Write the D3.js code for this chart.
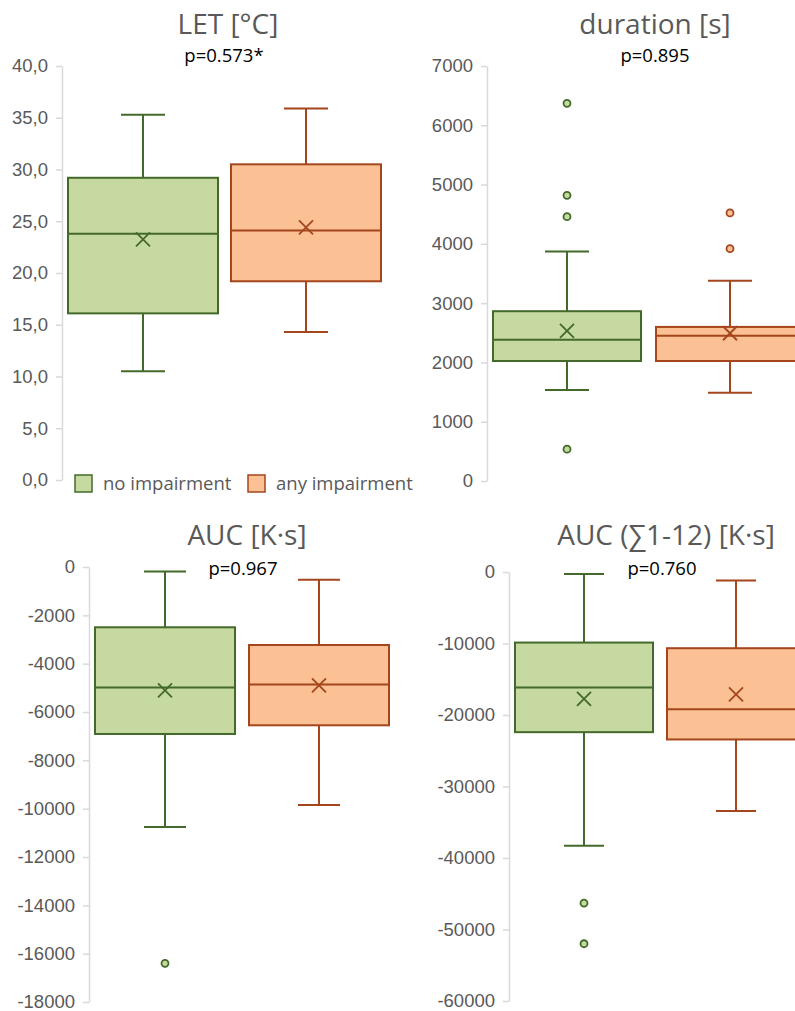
<!DOCTYPE html>
<html>
<head>
<meta charset="utf-8">
<script src="https://cdn.jsdelivr.net/npm/d3@7"></script>
<style>
  body { margin: 0; background: #fff; }
  svg { display: block; font-family: "Open Sans", "Noto Sans", sans-serif; }
</style>
</head>
<body>
<svg id="chart" width="795" height="1011"></svg>
<script>
// groups and panel labels
var groups = ["no impairment", "any impairment"];
var titles = ["LET [°C]", "duration [s]", "AUC [K·s]", "AUC (∑1-12) [K·s]"];
var pValues = ["p=0.573*", "p=0.895", "p=0.967", "p=0.760"];

// box stats per group: [lower whisker, q1, median, q3, upper whisker]
var letBoxes = [[10.5, 16.1, 23.8, 29.2, 35.3], [14.3, 19.2, 24.1, 30.5, 35.9]];
var letMeans = [23.25, 24.4];
var letOutliers = [[], []];
var letTicks = [0, 5, 10, 15, 20, 25, 30, 35, 40];

var durBoxes = [[1534, 2024, 2384, 2864, 3872], [1488, 2024, 2452, 2599, 3377]];
var durMeans = [2531, 2492];
var durOutliers = [[6370, 4819, 4459, 536], [4521, 3918]];
var durTicks = [0, 1000, 2000, 3000, 4000, 5000, 6000, 7000];

var aucBoxes = [[-10759, -6910, -4990, -2495, -190], [-9848, -6550, -4866, -3228, -524]];
var aucMeans = [-5102, -4895];
var aucOutliers = [[-16400], []];
var aucTicks = [0, -2000, -4000, -6000, -8000, -10000, -12000, -14000, -16000, -18000];

var sumBoxes = [[-38290, -22400, -16160, -9870, -280], [-33440, -23420, -19190, -10660, -1200]];
var sumMeans = [-17750, -17130];
var sumOutliers = [[-46300, -51990], []];
var sumTicks = [0, -10000, -20000, -30000, -40000, -50000, -60000];

var fills = ["#c5d9a0", "#fbc194"];
var strokes = ["#436a2a", "#a4451c"];

var locale = d3.formatLocale({ decimal: ",", thousands: "", grouping: [3], currency: ["", ""], minus: "-" });
var commaFmt = locale.format(".1f");
var intFmt = locale.format("d");

var svg = d3.select("#chart");

// panel layouts (pixels)
var panels = [
  { boxes: letBoxes, means: letMeans, outliers: letOutliers, ticks: letTicks, fmt: commaFmt,
    axisX: 62, y0: 480, y1: 66, c0: 143, c1: 306, bw: 150, cap: 22,
    tx: 228, ty: 34, px: 224, py: 62 },
  { boxes: durBoxes, means: durMeans, outliers: durOutliers, ticks: durTicks, fmt: intFmt,
    axisX: 487, y0: 481, y1: 66, c0: 567, c1: 730, bw: 148, cap: 22,
    tx: 655, ty: 34, px: 655, py: 62 },
  { boxes: aucBoxes, means: aucMeans, outliers: aucOutliers, ticks: aucTicks, fmt: intFmt,
    axisX: 89, y0: 1002, y1: 567, c0: 165, c1: 319, bw: 140, cap: 21,
    tx: 247, ty: 545, px: 243, py: 575 },
  { boxes: sumBoxes, means: sumMeans, outliers: sumOutliers, ticks: sumTicks, fmt: intFmt,
    axisX: 509, y0: 1001, y1: 572, c0: 584, c1: 736, bw: 138, cap: 20,
    tx: 666, ty: 545, px: 662, py: 575 }
];

panels.forEach(function (p, i) {
  var g = svg.append("g");
  var y = d3.scaleLinear()
    .domain(d3.extent(p.ticks))
    .range([p.y0, p.y1]);
  var x = d3.scalePoint().domain(groups).range([p.c0, p.c1]);

  var axis = g.append("g")
    .attr("transform", "translate(" + p.axisX + ",0)")
    .call(d3.axisLeft(y).tickValues(p.ticks).tickFormat(p.fmt).tickSize(6).tickSizeOuter(0).tickPadding(8));
  axis.select(".domain").attr("stroke", "#d9d9d9").attr("stroke-width", 1.5);
  axis.selectAll(".tick line").attr("stroke", "#d9d9d9").attr("stroke-width", 1.5);
  axis.selectAll(".tick text").attr("fill", "#595959").style("font-size", "18.5px");

  g.append("text")
    .attr("x", p.tx).attr("y", p.ty)
    .attr("text-anchor", "middle")
    .attr("fill", "#595959")
    .style("font-size", "28px")
    .text(titles[i]);
  g.append("text")
    .attr("x", p.px).attr("y", p.py)
    .attr("text-anchor", "middle")
    .attr("fill", "#000")
    .style("font-size", "18.5px")
    .text(pValues[i]);

  groups.forEach(function (grp, k) {
    var b = p.boxes[k];
    var cx = x(grp);
    var col = strokes[k];
    var bg = g.append("g");
    // whiskers
    bg.append("line").attr("x1", cx).attr("x2", cx).attr("y1", y(b[0])).attr("y2", y(b[1]))
      .attr("stroke", col).attr("stroke-width", 2);
    bg.append("line").attr("x1", cx).attr("x2", cx).attr("y1", y(b[3])).attr("y2", y(b[4]))
      .attr("stroke", col).attr("stroke-width", 2);
    [b[0], b[4]].forEach(function (v) {
      bg.append("line").attr("x1", cx - p.cap).attr("x2", cx + p.cap).attr("y1", y(v)).attr("y2", y(v))
        .attr("stroke", col).attr("stroke-width", 2);
    });
    // box
    bg.append("rect")
      .attr("x", cx - p.bw / 2).attr("width", p.bw)
      .attr("y", y(b[3])).attr("height", y(b[1]) - y(b[3]))
      .attr("fill", fills[k]).attr("stroke", col).attr("stroke-width", 2);
    bg.append("line").attr("x1", cx - p.bw / 2).attr("x2", cx + p.bw / 2)
      .attr("y1", y(b[2])).attr("y2", y(b[2]))
      .attr("stroke", col).attr("stroke-width", 2);
    // mean marker
    var my = y(p.means[k]);
    bg.append("path")
      .attr("d", "M" + (cx - 7) + "," + (my - 7) + "L" + (cx + 7) + "," + (my + 7) +
        "M" + (cx - 7) + "," + (my + 7) + "L" + (cx + 7) + "," + (my - 7))
      .attr("stroke", col).attr("stroke-width", 1.8).attr("fill", "none");
    // outliers
    bg.selectAll("circle").data(p.outliers[k]).enter().append("circle")
      .attr("cx", cx).attr("cy", function (d) { return y(d); })
      .attr("r", 3.5)
      .attr("fill", fills[k]).attr("stroke", col).attr("stroke-width", 1.8);
  });
});

// legend
var legend = svg.append("g");
var legX = [75, 248];
groups.forEach(function (grp, k) {
  legend.append("rect")
    .attr("x", legX[k]).attr("y", 475).attr("width", 17).attr("height", 17)
    .attr("fill", fills[k]).attr("stroke", strokes[k]).attr("stroke-width", 1.5);
  legend.append("text")
    .attr("x", legX[k] + 28).attr("y", 490)
    .attr("fill", "#595959")
    .style("font-size", "18.5px")
    .text(grp);
});
</script>
</body>
</html>
